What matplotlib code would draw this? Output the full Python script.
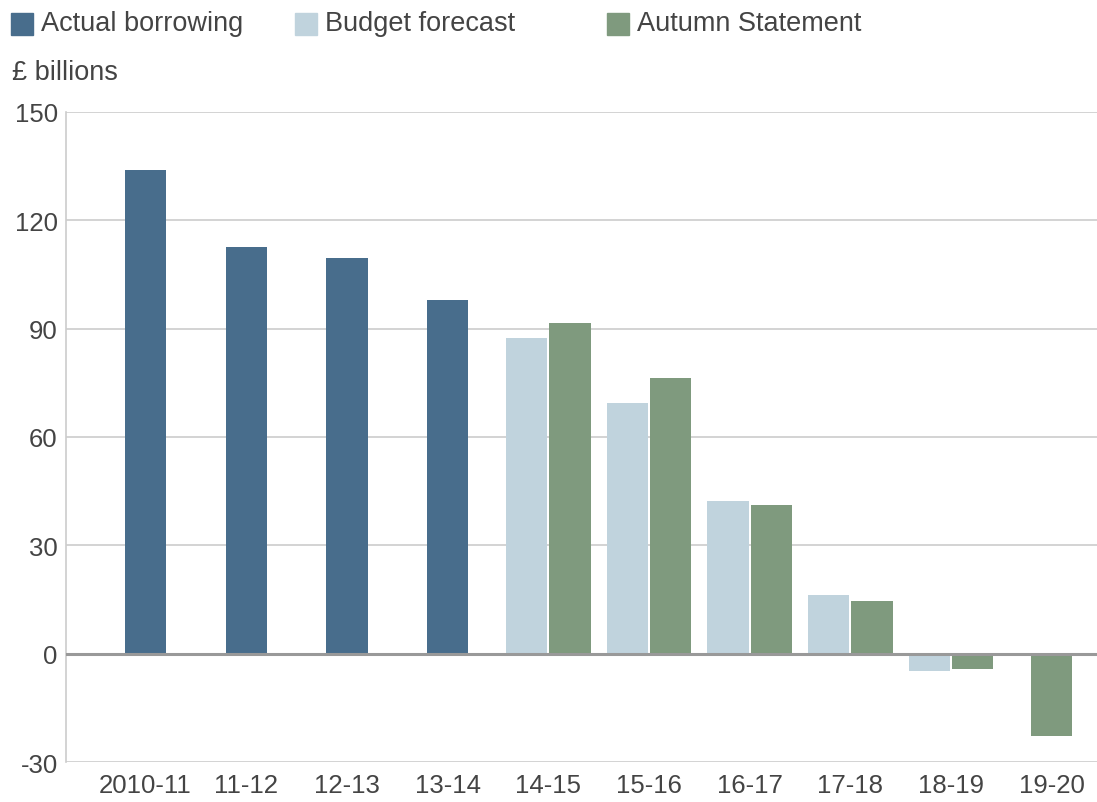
import matplotlib
matplotlib.use('Agg')
import matplotlib.pyplot as plt
import numpy as np

plt.rcParams['font.family'] = ['Liberation Sans', 'DejaVu Sans']
plt.rcParams['axes.unicode_minus'] = False

years = ['2010-11', '11-12', '12-13', '13-14', '14-15', '15-16', '16-17', '17-18', '18-19', '19-20']
actual = [134.0, 112.5, 109.7, 98.0, None, None, None, None, None, None]
budget = [None, None, None, None, 87.3, 69.3, 42.4, 16.3, -4.7, None]
autumn = [None, None, None, None, 91.7, 76.2, 41.3, 14.7, -4.2, -22.7]

c_actual = '#486d8c'
c_budget = '#c0d3dd'
c_autumn = '#7f9a7e'
txt = '#444444'

fig = plt.figure(figsize=(10.97, 8.03), dpi=100)
ax = fig.add_axes([0.0602, 0.0498, 0.9398, 0.8095])

w = 0.41
off = 0.215
for i in range(len(years)):
    a, b, c = actual[i], budget[i], autumn[i]
    if a is not None:
        ax.bar(i, a, width=w, color=c_actual, zorder=3)
    if b is not None and c is not None:
        ax.bar(i - off, b, width=w, color=c_budget, zorder=3)
        ax.bar(i + off, c, width=w, color=c_autumn, zorder=3)
    elif c is not None:
        ax.bar(i, c, width=w, color=c_autumn, zorder=3)
    elif b is not None:
        ax.bar(i, b, width=w, color=c_budget, zorder=3)

ax.set_ylim(-30, 150)
ax.set_xlim(-0.79, 9.45)
ax.set_yticks(np.arange(-30, 151, 30))
ax.set_xticks(range(len(years)))
ax.set_xticklabels(years)
ax.yaxis.grid(True, color='#cccccc', linewidth=1.2, zorder=0)
ax.axhline(0, color='#999999', linewidth=2.2, zorder=4)
for s in ['top', 'right', 'bottom']:
    ax.spines[s].set_visible(False)
ax.spines['left'].set_color('#cccccc')
ax.spines['left'].set_linewidth(1.2)
ax.tick_params(length=0, labelsize=18.5, colors=txt, pad=6)
ax.tick_params(axis='x', pad=8)

# legend along the top
items = [('Actual borrowing', c_actual, 11), ('Budget forecast', c_budget, 295), ('Autumn Statement', c_autumn, 607)]
for label, col, x0 in items:
    fig.patches.append(matplotlib.patches.Rectangle((x0 / 1097, 1 - 36 / 803), 22 / 1097, 22 / 803,
                                                   transform=fig.transFigure, color=col))
    fig.text((x0 + 30) / 1097, 1 - 24 / 803, label, fontsize=19.5, color=txt, va='center')
fig.text(12 / 1097, 1 - 73 / 803, '£ billions', fontsize=19.5, color=txt, va='center')

fig.savefig('out.png', dpi=100)
